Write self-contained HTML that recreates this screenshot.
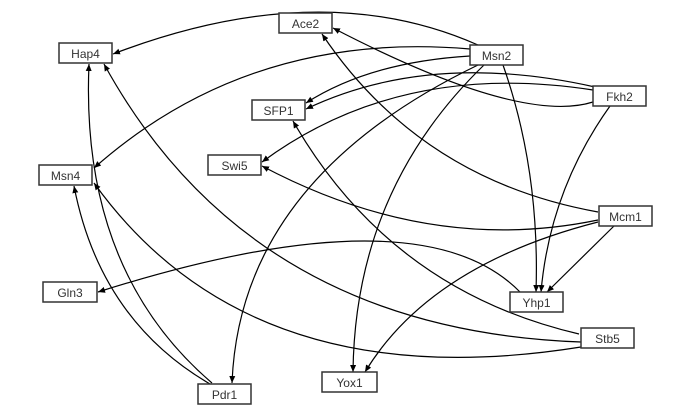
<!DOCTYPE html>
<html><head><style>
html,body{margin:0;padding:0;background:#fff;}
svg{display:block;}
text{font-family:"Liberation Sans",Arial,sans-serif;font-size:12px;fill:#333;}
</style></head><body>
<svg width="689" height="412" viewBox="0 0 689 412" xmlns="http://www.w3.org/2000/svg">
<defs>
<marker id="a" markerWidth="8" markerHeight="8" refX="7" refY="3" orient="auto" markerUnits="userSpaceOnUse">
<path d="M0,0 L7,3 L0,6 z" fill="#000"/>
</marker>
</defs>
<g fill="none" stroke="#000" stroke-width="1.2" marker-end="url(#a)">
<path d="M478,45 Q320,-25 113,54"/>
<path d="M470,49 Q250,30 94,168"/>
<path d="M470,56 Q370,62 306,103"/>
<path d="M595,87 Q430,50 306,109"/>
<path d="M593,90 Q400,60 262,162"/>
<path d="M593,102 Q520,125 333,28"/>
<path d="M610,106 Q550,190 541,292"/>
<path d="M503,65 Q540,170 536,292"/>
<path d="M478,65 Q240,180 232,383"/>
<path d="M484,65 Q355,190 353,372"/>
<path d="M598,212 Q420,180 322,34"/>
<path d="M598,220 Q430,255 262,166"/>
<path d="M614,226 L547,292"/>
<path d="M598,222 Q430,265 365,372"/>
<path d="M520,292 Q420,190 98,292"/>
<path d="M579,334 Q390,290 293,121"/>
<path d="M581,342 Q250,330 104,64"/>
<path d="M581,347 Q250,400 94,183"/>
<path d="M212,383 Q80,270 89,64"/>
<path d="M210,384 Q100,320 74,186"/>
</g>
<g fill="#fff" stroke="#333" stroke-width="1.5">
<rect x="279" y="13" width="53" height="20"/>
<rect x="59" y="43" width="53" height="20"/>
<rect x="470" y="45" width="53" height="20"/>
<rect x="593" y="86" width="53" height="20"/>
<rect x="252" y="100" width="53" height="20"/>
<rect x="208" y="155" width="53" height="20"/>
<rect x="39" y="165" width="53" height="20"/>
<rect x="599" y="206" width="53" height="20"/>
<rect x="43" y="282" width="54" height="20"/>
<rect x="510" y="292" width="53" height="20"/>
<rect x="581" y="328" width="53" height="20"/>
<rect x="322" y="372" width="55" height="20"/>
<rect x="198" y="384" width="53" height="20"/>
</g>
<g text-anchor="middle">
<text x="305.5" y="28">Ace2</text>
<text x="85.5" y="58">Hap4</text>
<text x="496.5" y="60">Msn2</text>
<text x="619.5" y="101">Fkh2</text>
<text x="278.5" y="115">SFP1</text>
<text x="234.5" y="170">Swi5</text>
<text x="65.5" y="180">Msn4</text>
<text x="625.5" y="221">Mcm1</text>
<text x="70" y="297">Gln3</text>
<text x="536.5" y="307">Yhp1</text>
<text x="607.5" y="343">Stb5</text>
<text x="349.5" y="387">Yox1</text>
<text x="224.5" y="399">Pdr1</text>
</g>
</svg>
</body></html>
